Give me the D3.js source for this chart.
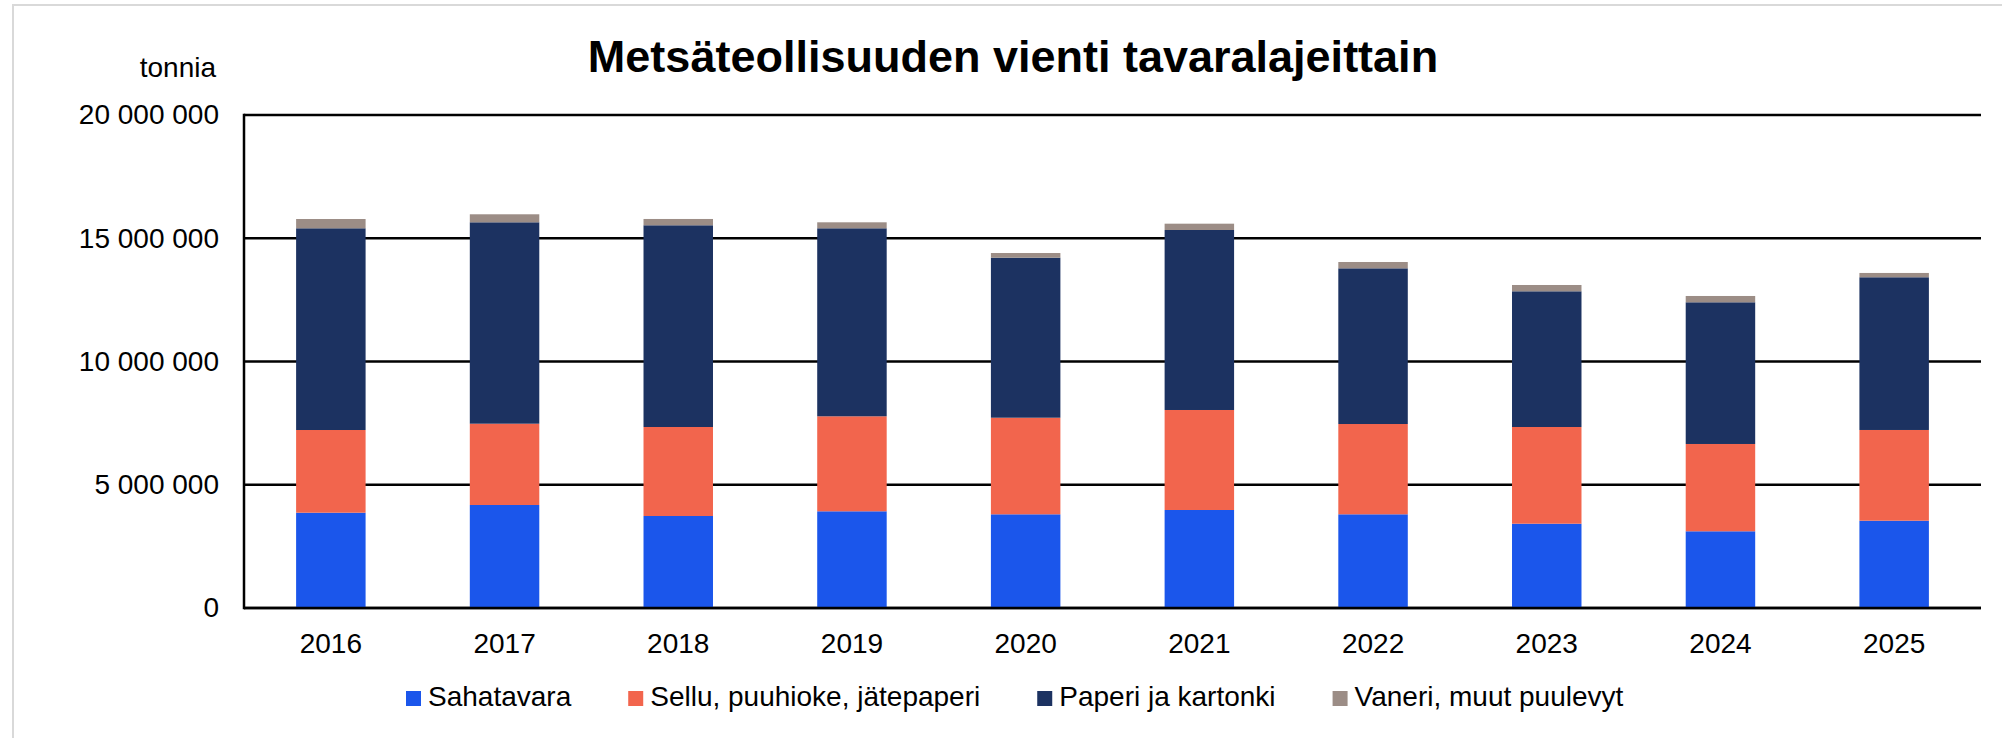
<!DOCTYPE html>
<html>
<head>
<meta charset="utf-8">
<script src="https://cdn.jsdelivr.net/npm/d3@7"></script>
<style>
  html, body { margin: 0; padding: 0; background: #ffffff; }
  svg text { font-family: "Liberation Sans", Arial, sans-serif; fill: #000000; }
</style>
</head>
<body>
<div id="chart"></div>
<script>
//data (tonnes)
var years = ["2016", "2017", "2018", "2019", "2020", "2021", "2022", "2023", "2024", "2025"];
var sahatavara = [3866000, 4179000, 3732000, 3923000, 3801000, 3976000, 3801000, 3420000, 3112000, 3542000];
var sellu = [3355000, 3298000, 3611000, 3854000, 3919000, 4057000, 3663000, 3923000, 3542000, 3680000];
var paperi = [8183000, 8170000, 8183000, 7627000, 6491000, 7302000, 6316000, 5505000, 5748000, 6195000];
var vaneri = [377000, 325000, 256000, 243000, 190000, 256000, 256000, 256000, 256000, 175000];
var seriesNames = ["Sahatavara", "Sellu, puuhioke, jätepaperi", "Paperi ja kartonki", "Vaneri, muut puulevyt"];
var yTicks = [0, 5000000, 10000000, 15000000, 20000000];

var colors = ["#1b56eb", "#f2654d", "#1c3261", "#9c8d86"];

var W = 2002, H = 738;
var plot = {left: 244, right: 1981, top: 115, bottom: 608};

var svg = d3.select("#chart").append("svg")
  .attr("width", W)
  .attr("height", H);

//light frame round the chart
svg.append("rect")
  .attr("x", 13).attr("y", 5)
  .attr("width", 2010).attr("height", 760)
  .attr("fill", "none")
  .attr("stroke", "#d9d9d9")
  .attr("stroke-width", 2);

//build the rows for the stack
var rows = years.map(function(y, i) {
  return {year: y, s0: sahatavara[i], s1: sellu[i], s2: paperi[i], s3: vaneri[i]};
});
var stack = d3.stack().keys(["s0", "s1", "s2", "s3"]);
var layers = stack(rows);

var x = d3.scaleBand()
  .domain(years)
  .range([plot.left, plot.right])
  .paddingInner(0.6)
  .paddingOuter(0.3);

var y = d3.scaleLinear()
  .domain([0, 20000000])
  .range([plot.bottom, plot.top]);

var fmt = function(d) { return d3.format(",")(d).replace(/,/g, " "); };

//gridlines
svg.append("g").attr("class", "grid")
  .selectAll("line")
  .data(yTicks)
  .enter()
  .append("line")
  .attr("x1", plot.left)
  .attr("x2", plot.right)
  .attr("y1", function(d) { return y(d); })
  .attr("y2", function(d) { return y(d); })
  .attr("stroke", "#000000")
  .attr("stroke-width", 2.5);

//bars
svg.append("g").attr("class", "bars")
  .selectAll("g")
  .data(layers)
  .enter()
  .append("g")
  .attr("fill", function(d, i) { return colors[i]; })
  .selectAll("rect")
  .data(function(d) { return d; })
  .enter()
  .append("rect")
  .attr("x", function(d) { return x(d.data.year); })
  .attr("width", x.bandwidth())
  .attr("y", function(d) { return y(d[1]); })
  .attr("height", function(d) { return y(d[0]) - y(d[1]); });

//left axis line and base line drawn on top of the bars
svg.append("line")
  .attr("x1", plot.left).attr("x2", plot.left)
  .attr("y1", plot.top - 1.25).attr("y2", plot.bottom + 1.25)
  .attr("stroke", "#000000").attr("stroke-width", 2.5);
svg.append("line")
  .attr("x1", plot.left).attr("x2", plot.right)
  .attr("y1", plot.bottom).attr("y2", plot.bottom)
  .attr("stroke", "#000000").attr("stroke-width", 2.5);

//y axis, no tick marks
var yAxis = d3.axisLeft(y)
  .tickValues(yTicks)
  .tickFormat(fmt)
  .tickSize(0)
  .tickPadding(25);
var gy = svg.append("g")
  .attr("transform", "translate(" + plot.left + ",0)")
  .call(yAxis);
gy.select(".domain").remove();
gy.selectAll("text")
  .attr("font-size", 28)
  .attr("font-family", "Liberation Sans, Arial, sans-serif")
  .attr("fill", "#000000");

//x axis
var xAxis = d3.axisBottom(x).tickSize(0).tickPadding(25);
var gx = svg.append("g")
  .attr("transform", "translate(0," + plot.bottom + ")")
  .call(xAxis);
gx.select(".domain").remove();
gx.selectAll("text")
  .attr("font-size", 28)
  .attr("font-family", "Liberation Sans, Arial, sans-serif")
  .attr("fill", "#000000");

//unit label
svg.append("text")
  .attr("x", 216)
  .attr("y", 77)
  .attr("text-anchor", "end")
  .attr("font-size", 28)
  .text("tonnia");

//title
svg.append("text")
  .attr("x", 1013)
  .attr("y", 72)
  .attr("text-anchor", "middle")
  .attr("font-size", 45)
  .attr("font-weight", "bold")
  .text("Metsäteollisuuden vienti tavaralajeittain");

//legend
var legend = svg.append("g").attr("class", "legend");
var lx = 406;
seriesNames.forEach(function(name, i) {
  legend.append("rect")
    .attr("x", lx).attr("y", 691)
    .attr("width", 15).attr("height", 15)
    .attr("fill", colors[i]);
  var t = legend.append("text")
    .attr("x", lx + 22)
    .attr("y", 706)
    .attr("font-size", 28)
    .text(name);
  lx += 22 + t.node().getComputedTextLength() + 57;
});
</script>
</body>
</html>
